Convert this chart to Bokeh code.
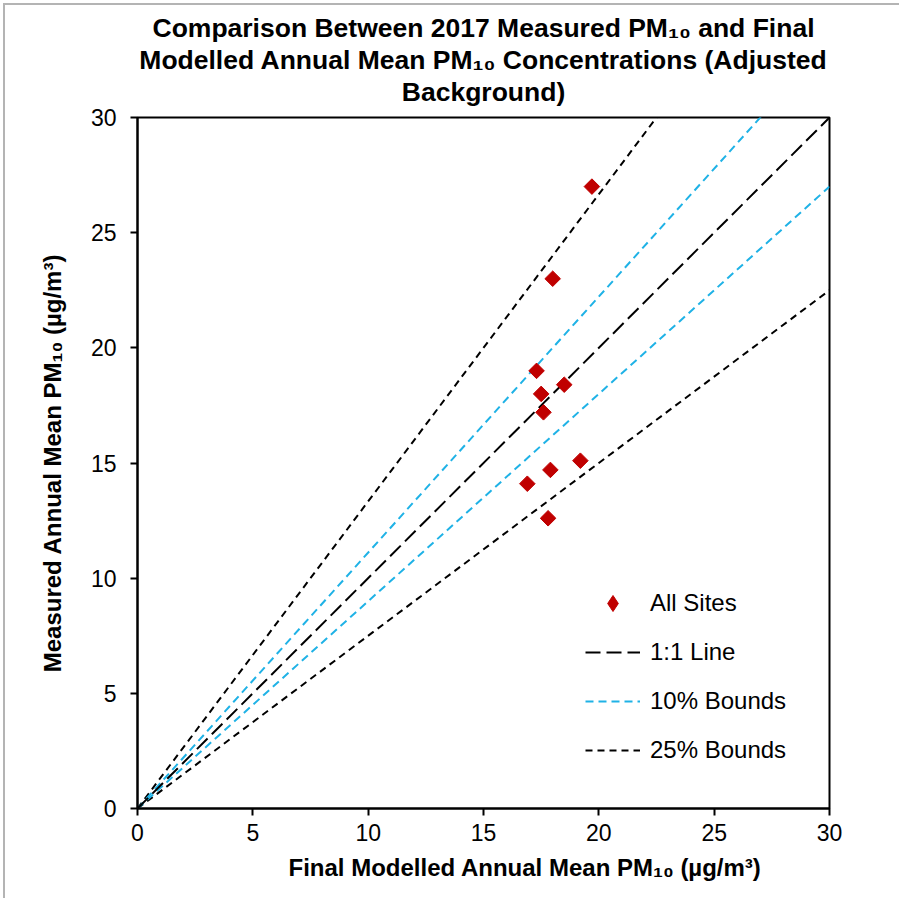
from bokeh.plotting import figure
from bokeh.models import Range1d, Legend, LegendItem, FixedTicker, Title
from bokeh.embed import file_html
from bokeh.resources import INLINE
import numpy as np

# Site data: final modelled vs measured annual mean PM10 (µg/m³)
modelled = [19.7, 18.0, 17.3, 17.5, 18.5, 17.6, 16.9, 17.9, 19.2, 17.8]
measured = [27.0, 23.0, 19.0, 18.0, 18.4, 17.2, 14.1, 14.7, 15.1, 12.6]

# Reference lines through the origin: y = x * f and y = x / f
line_x = [0, 30]
band_10 = 0.9
band_25 = 0.75

ticks = [0, 5, 10, 15, 20, 25, 30]

title_lines = [
    "Comparison Between 2017 Measured PM\u2081\u2080 and Final",
    "Modelled Annual Mean PM\u2081\u2080 Concentrations (Adjusted",
    "Background)",
]
x_label = "Final Modelled Annual Mean PM\u2081\u2080 (µg/m³)"
y_label = "Measured Annual Mean PM\u2081\u2080 (µg/m³)"

FONT = "Liberation Sans"
W, H = 896, 895

p = figure(width=W, height=H, output_backend="svg", toolbar_location=None,
           x_range=Range1d(0, 30), y_range=Range1d(0, 30),
           min_border_left=132, min_border_right=72, min_border_top=112, min_border_bottom=92)
p.styles = {"border-top": "2px solid #b4b4b4", "border-left": "2px solid #b4b4b4",
            "margin-left": "3px", "margin-top": "3px"}


def style_title(t, size="26.5px"):
    t.text_font = FONT
    t.text_font_size = size
    t.text_font_style = "bold"
    t.text_color = "black"
    t.text_line_height = 1.0
    t.align = "center"
    t.standoff = 0
    t.offset = 0


# blank strip between the title block and the plot frame
spacer = Title(text=" ", text_font=FONT, text_font_size="8px", standoff=0)
p.add_layout(spacer, "above")

# The figure's own title is the outermost line; extra lines stack towards the frame
p.title.text = title_lines[0]
style_title(p.title)
for line in reversed(title_lines[1:]):
    t = Title(text=line)
    style_title(t)
    p.add_layout(t, "above")

p.grid.visible = False
p.outline_line_color = "black"
p.outline_line_width = 2
p.background_fill_color = "white"
p.border_fill_color = "white"

for ax in (p.xaxis[0], p.yaxis[0]):
    ax.ticker = FixedTicker(ticks=ticks)
    ax.minor_tick_line_color = None
    ax.major_tick_in = 0
    ax.major_tick_out = 7
    ax.major_tick_line_width = 2
    ax.axis_line_width = 2
    ax.axis_line_color = "black"
    ax.major_tick_line_color = "black"
    ax.major_label_text_font = FONT
    ax.major_label_text_font_size = "23px"
    ax.major_label_text_color = "black"
    ax.axis_label_text_font = FONT
    ax.axis_label_text_font_size = "24px"
    ax.axis_label_text_font_style = "bold"
    ax.axis_label_text_color = "black"

p.yaxis.axis_label = y_label
p.xaxis.major_label_standoff = 8
p.yaxis.major_label_standoff = 14
p.yaxis.axis_label_standoff = 22

# x-axis title sits right of centre, so it is placed as a left-aligned caption
xt = Title(text=x_label)
style_title(xt, "24px")
xt.align = "left"
xt.offset = 151
xt.standoff = 16
p.add_layout(xt, "below")

xs = np.array(line_x, dtype=float)

r_25 = [p.line(xs, ys, line_color="black", line_width=2, line_dash="7 5")
        for ys in (xs / band_25, xs * band_25)]
r_10 = [p.line(xs, ys, line_color="#1fb2e6", line_width=2, line_dash="8 5")
        for ys in (xs / band_10, xs * band_10)]
r_11 = p.line(xs, xs, line_color="black", line_width=2, line_dash="15 6")

# diamond marker used as the legend key; it sits hidden inside the site markers
r_key = p.scatter(modelled, measured, marker="diamond", size=9,
                  fill_color="#c00000", line_color="#c00000")
p.scatter(modelled, measured, marker="square", size=11, angle=np.pi / 4,
          fill_color="#c00000", line_color="#c00000")

legend = Legend(items=[
    LegendItem(label="All Sites", renderers=[r_key]),
    LegendItem(label="1:1 Line", renderers=[r_11]),
    LegendItem(label="10% Bounds", renderers=[r_10[0]]),
    LegendItem(label="25% Bounds", renderers=[r_25[0]]),
], location=(448, 38))
legend.border_line_color = None
legend.background_fill_alpha = 0
legend.padding = 0
legend.margin = 0
legend.glyph_width = 55
legend.glyph_height = 40
legend.label_height = 40
legend.spacing = 9
legend.label_standoff = 10
legend.label_text_font = FONT
legend.label_text_font_size = "24px"
legend.label_text_color = "black"
p.add_layout(legend)

open("out.html", "w").write(file_html(p, INLINE))
